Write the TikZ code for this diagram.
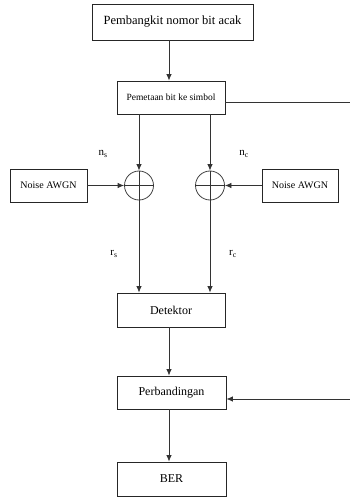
\documentclass[tikz,border=0pt]{standalone}
\usepackage{fontspec}
\setmainfont{Liberation Serif}
\usetikzlibrary{arrows.meta}
\begin{document}
\begin{tikzpicture}[x=1pt,y=-1pt,
  box/.style={draw=black!85, line width=0.8pt, minimum width=#1, inner sep=0pt, fill=white},
  ln/.style={draw=black!80, line width=0.8pt},
  arr/.style={ln, -{Latex[length=6.5pt,width=5.5pt]}},
  sumnode/.style={circle, draw=black!75, line width=0.8pt, minimum size=29pt, inner sep=0pt},
  lbl/.style={font=\fontsize{11}{12}\selectfont}]
\useasboundingbox (0,0) rectangle (349,497);
\node[box=161pt, minimum height=36pt, font=\fontsize{12.5}{14}\selectfont] (gen) at (172.5,22) {Pembangkit nomor bit acak};
\node[box=108pt, minimum height=33pt, font=\fontsize{9.5}{11}\selectfont] (map) at (171,97.5) {Pemetaan bit ke simbol};
\node[box=77pt, minimum height=33pt, font=\fontsize{10}{12}\selectfont] (noiseL) at (48.5,185.5) {Noise AWGN};
\node[box=76pt, minimum height=33pt, font=\fontsize{10}{12}\selectfont] (noiseR) at (300,185.5) {Noise AWGN};
\node[sumnode] (sumL) at (139,185.5) {};
\node[sumnode] (sumR) at (210,185.5) {};
\node[box=108pt, minimum height=34pt, font=\fontsize{12}{14}\selectfont] (det) at (171,310) {Detektor};
\node[box=109pt, minimum height=33pt, font=\fontsize{12}{14}\selectfont] (cmp) at (171.5,392.5) {Perbandingan};
\node[box=109pt, minimum height=34pt, font=\fontsize{12}{14}\selectfont] (ber) at (171.5,479) {BER};
\node[lbl] (ns) at (103,154) {n\textsubscript{s}};
\node[lbl] (nc) at (244,154) {n\textsubscript{c}};
\node[lbl] (rs) at (114,254) {r\textsubscript{s}};
\node[lbl] (rc) at (233,254) {r\textsubscript{c}};
\coordinate (c1) at (169,0);
\coordinate (fb1) at (352,102);
\coordinate (fb2) at (352,399);
% connectors
\draw[arr] (gen.south -| c1) -- (map.north -| c1);
\draw[arr] (map.south -| sumL) -- (sumL.north);
\draw[arr] (map.south -| sumR) -- (sumR.north);
\draw[arr] (noiseL.east) -- (sumL.west);
\draw[arr] (noiseR.west) -- (sumR.east);
\draw[ln] (sumL.north) -- (sumL.south) (sumL.west) -- (sumL.east);
\draw[ln] (sumR.north) -- (sumR.south) (sumR.west) -- (sumR.east);
\draw[arr] (sumL.south) -- (det.north -| sumL);
\draw[arr] (sumR.south) -- (det.north -| sumR);
\draw[arr] (det.south -| c1) -- (cmp.north -| c1);
\draw[arr] (cmp.south -| c1) -- (ber.north -| c1);
\draw[ln] (map.east |- fb1) -- (fb1) -- (fb2);
\draw[arr] (fb2) -- (cmp.east |- fb2);
\end{tikzpicture}
\end{document}
